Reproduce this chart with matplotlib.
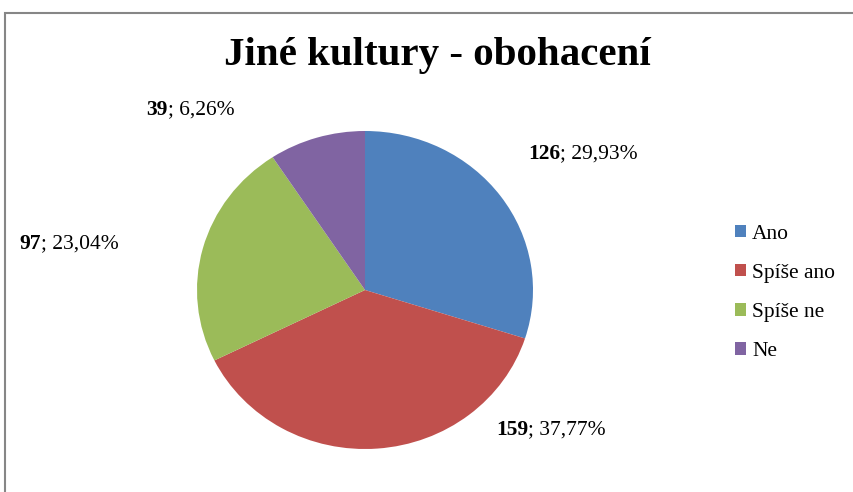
import matplotlib.pyplot as plt
from matplotlib.patches import Rectangle

plt.rcParams['font.family'] = ['Liberation Serif', 'DejaVu Serif']

# data
categories = ['Ano', 'Spíše ano', 'Spíše ne', 'Ne']
counts = [126, 159, 97, 39]
pct_labels = ['29,93%', '37,77%', '23,04%', '6,26%']
colors = ['#4F81BD', '#C0504D', '#9BBB59', '#8064A2']

W, H = 854, 492
fig = plt.figure(figsize=(W / 100, H / 100), dpi=100)

# full-figure axes in pixel units for text, legend and border
ax = fig.add_axes([0, 0, 1, 1])
ax.set_xlim(0, W)
ax.set_ylim(0, H)
ax.axis('off')

# pie is slightly wider than tall in the original (Excel stretch)
pie_left, pie_top, pie_w, pie_h = 197, 131, 336, 318
pax = fig.add_axes([pie_left / W, (H - pie_top - pie_h) / H, pie_w / W, pie_h / H])
wedges, _ = pax.pie(counts, colors=colors, startangle=90, counterclock=False,
                    radius=1, wedgeprops=dict(linewidth=0))
pax.set_aspect('auto')
pax.set_xlim(-1, 1)
pax.set_ylim(-1, 1)
pax.axis('off')

# label anchor points (x where bold number ends), pixel space
label_pos = [(560, H - 154), (528, H - 430), (41, H - 244), (168, H - 110)]
for (x, y), n, p in zip(label_pos, counts, pct_labels):
    ax.text(x, y, str(n), fontsize=15.5, fontweight='bold', ha='right', va='center')
    ax.text(x, y, '; ' + p, fontsize=15.5, ha='left', va='center')

ax.text(437, H - 55, 'Jiné kultury - obohacení', fontsize=29.5, fontweight='bold',
        ha='center', va='center')

ax.legend(wedges, categories, loc='center left', bbox_to_anchor=(735 / W, 1 - 293 / H),
          frameon=False, fontsize=15.5, handlelength=0.5, handleheight=0.5,
          handletextpad=0.3, labelspacing=0.93, borderpad=0, borderaxespad=0)

# chart border (cropped on the right and bottom)
ax.add_patch(Rectangle((5, -10), W + 20, H - 13 + 10, fill=False,
                       edgecolor='#868686', linewidth=1.5, clip_on=False))

fig.savefig('out.png', dpi=100)
